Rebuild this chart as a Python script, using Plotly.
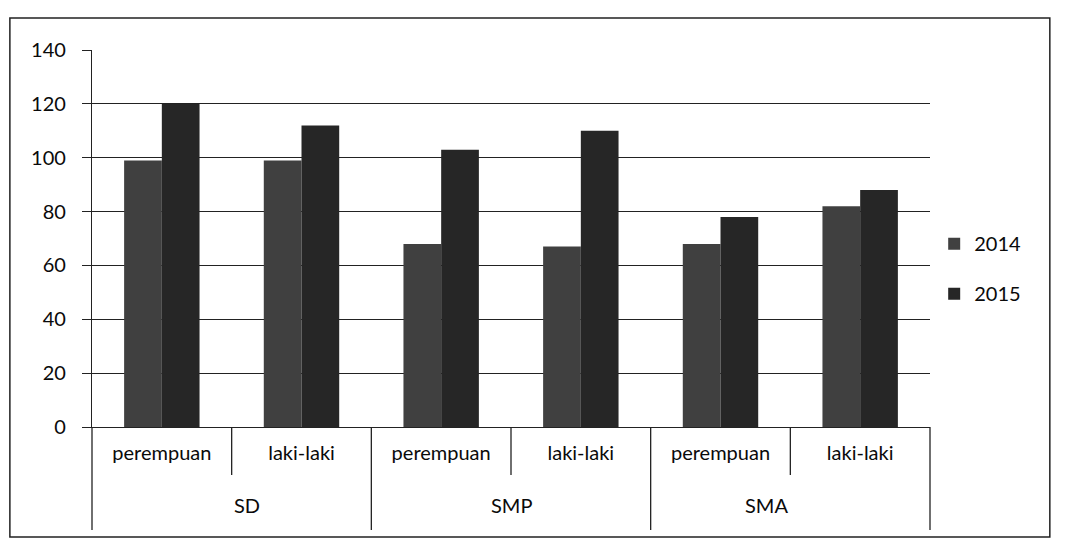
import plotly.graph_objects as go

# data
levels = ['SD', 'SMP', 'SMA']
genders = ['perempuan', 'laki-laki', 'perempuan', 'laki-laki', 'perempuan', 'laki-laki']
slots = ['SD perempuan', 'SD laki-laki', 'SMP perempuan', 'SMP laki-laki', 'SMA perempuan', 'SMA laki-laki']
y2014 = [99, 99, 68, 67, 68, 82]
y2015 = [120, 112, 103, 110, 78, 88]

fnt = dict(family='Lato, Open Sans, sans-serif', size=20, color='#0a0a0a')
ink = '#222'

fig = go.Figure()
fig.add_trace(go.Bar(x=slots, y=y2014, name='2014', legendgroup='a',
                     marker=dict(color='#404040', line=dict(width=0))))
fig.add_trace(go.Bar(x=slots, y=y2015, name='2015', legendgroup='b',
                     marker=dict(color='#262626', line=dict(width=0))))

# page body has an 8px margin, so the figure is 8px smaller than the window
fig.update_layout(
    width=1063, height=536,
    margin=dict(l=84, r=141, t=42, b=117),
    paper_bgcolor='white', plot_bgcolor='white',
    font=fnt,
    barmode='group', bargap=0.46, bargroupgap=0,
    showlegend=True,
    legend=dict(x=1.005, y=0.42, yanchor='middle', font=fnt,
                tracegroupgap=21, itemwidth=30),
)
fig.update_yaxes(range=[0, 140], dtick=20, showgrid=True, gridcolor=ink, gridwidth=1.3,
                 ticks='outside', ticklen=9, tickcolor=ink, showline=True,
                 linecolor=ink, linewidth=1.3, zeroline=False, tickfont=fnt,
                 ticklabelstandoff=12, automargin=False)
fig.update_xaxes(type='category', showline=True, linecolor=ink, linewidth=1.3,
                 tickvals=slots, ticktext=genders, tickfont=fnt, ticks='',
                 ticklabelstandoff=8, automargin=False)

# group labels (lower row)
for i, lv in enumerate(levels):
    fig.add_annotation(text=lv, xref='paper', yref='paper', x=(2 * i + 1) / 6, y=-0.207,
                       showarrow=False, font=fnt, yanchor='middle')

# short dividers between genders, long dividers between school levels
for i in range(7):
    y_end = -0.127 if i % 2 else -0.273
    fig.add_shape(type='line', xref='paper', yref='paper', x0=i / 6, x1=i / 6, y0=0, y1=y_end,
                  line=dict(color=ink, width=1.3))

# outer chart frame
fig.add_shape(type='rect', xref='paper', yref='paper', x0=-0.098, x1=1.143, y0=-0.292, y1=1.085,
              line=dict(color=ink, width=1.5))

fig.write_html("out.html")
